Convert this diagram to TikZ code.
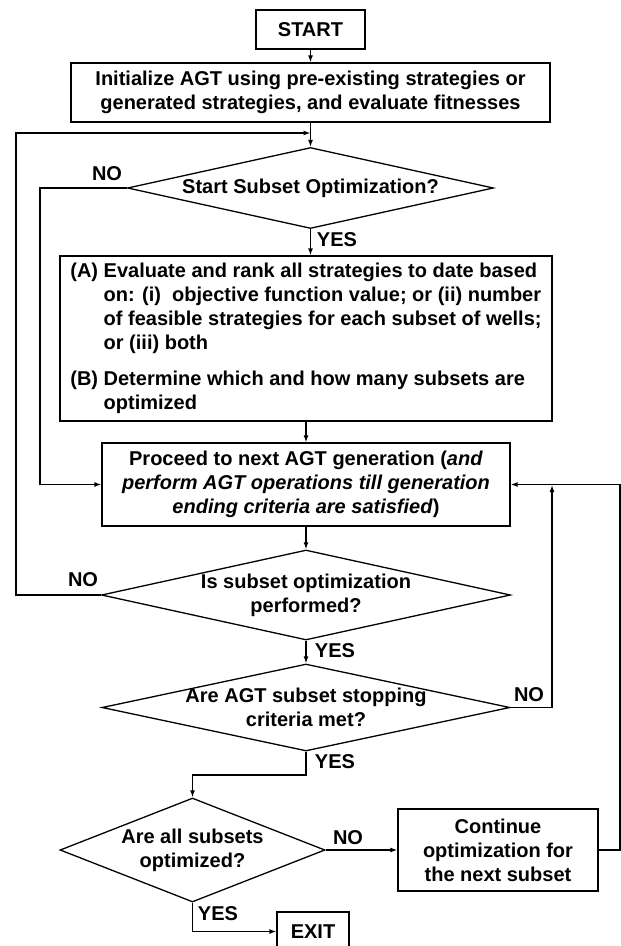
\documentclass[tikz,border=0pt]{standalone}
\usepackage{fontspec}
\setmainfont{Liberation Sans}
\usetikzlibrary{shapes.geometric,arrows.meta}

\tikzset{
  every node/.style={font=\fontsize{20}{24}\selectfont\bfseries},
  flow/.style={draw, line width=1.3pt, inner sep=0pt, align=center},
  decision/.style={diamond, draw, line width=1.3pt, inner xsep=0pt, inner ysep=-6pt, align=center, aspect=4.5},
  link/.style={line width=1.3pt, -{Latex[length=7pt,width=5pt]}},
}

\begin{document}
\begin{tikzpicture}[x=1pt, y=-1pt]
\path[fill=white, use as bounding box] (0,0) rectangle (621,946);

% steps
\node[flow, minimum width=109pt, minimum height=39pt] (start) at (310.5,29.5) {START};
\node[flow, minimum width=479pt, minimum height=59pt] (init) at (310.5,92.5) {Initialize AGT using pre-existing strategies or\\generated strategies, and evaluate fitnesses};
\node[decision, minimum width=366pt, minimum height=81pt] (q1) at (310.5,188) {Start Subset Optimization?};
\node[flow, minimum width=492pt, minimum height=165pt] (rank) at (306,338.5) {\begin{tabular}{@{}l@{\ }l@{}}
  (A) & Evaluate and rank all strategies to date based\\
      & on: (i)\ \ objective function value; or (ii) number\\
      & of feasible strategies for each subset of wells;\\
      & or (iii) both\\[12pt]
  (B) & Determine which and how many subsets are\\
      & optimized
  \end{tabular}};
\node[flow, minimum width=408pt, minimum height=83pt] (next) at (306,484.5) {Proceed to next AGT generation (\textit{and}\\\textit{perform AGT operations till generation}\\\textit{ending criteria are satisfied})};
\node[decision, minimum width=409pt, minimum height=90pt] (q2) at (306,595) {Is subset optimization\\performed?};
\node[decision, minimum width=408pt, minimum height=87pt] (q3) at (306,707.5) {Are AGT subset stopping\\criteria met?};
\node[decision, aspect=2.5, minimum width=265pt, minimum height=104pt] (q4) at (192.5,850) {Are all subsets\\optimized?};
\node[flow, minimum width=200pt, minimum height=82pt] (cont) at (498,850) {Continue\\optimization for\\the next subset};
\node[flow, minimum width=72pt, minimum height=39pt] (exit) at (313,931.5) {EXIT};

% answers
\node (no1) at (107,174) {NO};
\node (yes1) at (337,240) {YES};
\node (no2) at (83,580) {NO};
\node (yes2) at (335,651) {YES};
\node (no3) at (529,695) {NO};
\node (yes3) at (335,762) {YES};
\node (no4) at (348,838) {NO};
\node (yes4) at (218,914) {YES};

% bends
\coordinate (loopin) at (310.5,133);
\coordinate (outer) at (16,400);
\coordinate (inner) at (40,300);
\coordinate (backin) at (552,485);
\coordinate (yesbend) at (306,775);
\coordinate (rimline) at (620,700);

\draw[link] (start) -- (init);
\draw[link] (init) -- (q1);
\draw[link] (q2.west) -| (outer) |- (loopin);
\draw[link] (q1.west) -| (inner) |- (next.west);
\draw[link] (q1.south) -- (q1.south |- rank.north);
\draw[link] (rank) -- (next);
\draw[link] (next) -- (q2);
\draw[link] (q2) -- (q3);
\draw[link] (q3.east) -| (backin);
\draw[link] (q3.south) -- (yesbend) -| (q4.north);
\draw[link] (q4) -- (cont);
\draw[link] (cont.east) -| (rimline) |- (next.east);
\draw[link] (q4.south) |- (exit.west);
\end{tikzpicture}
\end{document}
